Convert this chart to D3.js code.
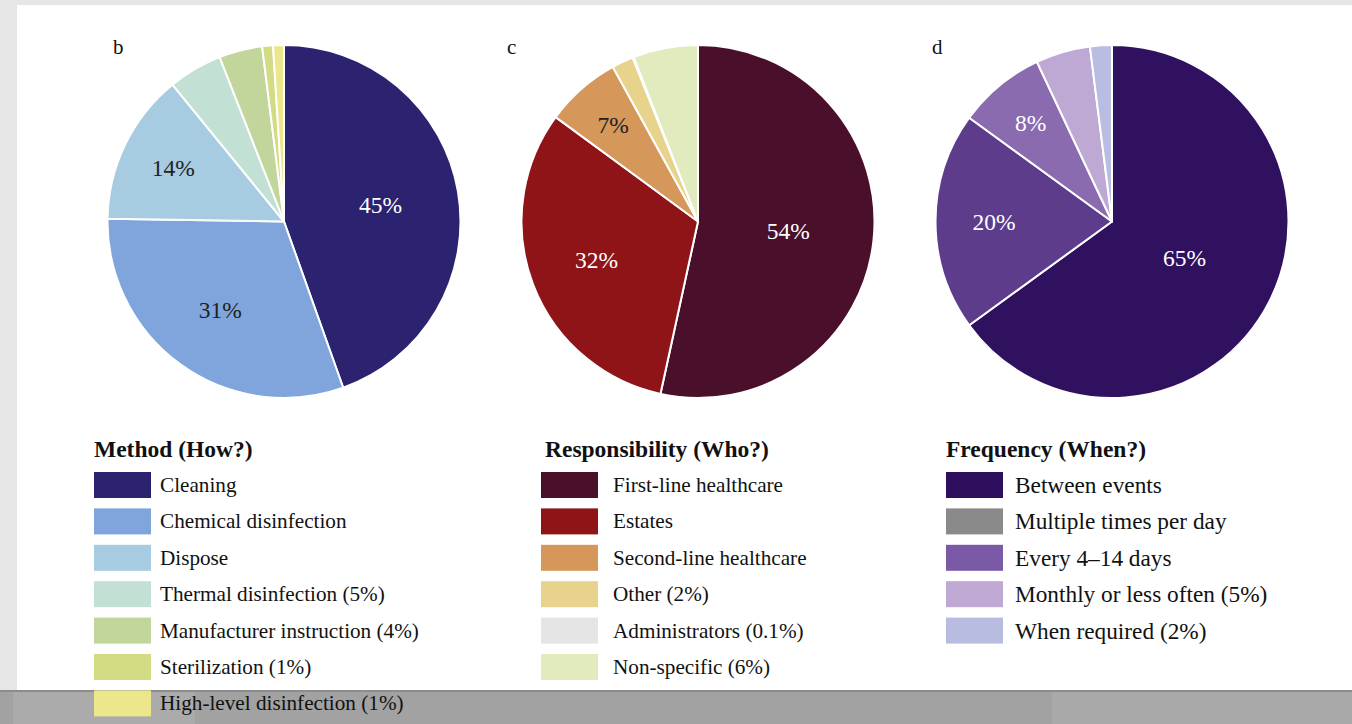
<!DOCTYPE html>
<html>
<head>
<meta charset="utf-8">
<script src="https://cdn.jsdelivr.net/npm/d3@7"></script>
<style>
  html, body { margin: 0; padding: 0; background: #e8e8e8; }
  svg { display: block; }
</style>
</head>
<body>
<svg id="chart" width="1352" height="724"></svg>
<script>
// Method (How?)
const methodLabels = ["Cleaning", "Chemical disinfection", "Dispose", "Thermal disinfection (5%)",
  "Manufacturer instruction (4%)", "Sterilization (1%)", "High-level disinfection (1%)"];
const methodValues = [45, 31, 14, 5, 4, 1, 1];
const methodColors = ["#2b2270", "#7fa5dc", "#a7cbe0", "#c3e0d5", "#c2d69c", "#d3db85", "#ebe78a"];

// Responsibility (Who?)
const respLabels = ["First-line healthcare", "Estates", "Second-line healthcare", "Other (2%)",
  "Administrators (0.1%)", "Non-specific (6%)"];
const respValues = [54, 32, 7, 2, 0.1, 6];
const respColors = ["#4a0f2a", "#8e1418", "#d5975a", "#e8d38c", "#e5e5e5", "#e1ebbe"];

// Frequency (When?) - legend entries
const freqLabels = ["Between events", "Multiple times per day", "Every 4\u201314 days",
  "Monthly or less often (5%)", "When required (2%)"];
const freqLegendColors = ["#2e0f5e", "#8a8a8a", "#7a5aa6", "#bfa8d3", "#b9bce1"];
// Frequency (When?) - pie slices
const freqValues = [65, 20, 8, 5, 2];
const freqSliceColors = ["#2f1160", "#5e3c8c", "#8a6bb0", "#bea8d4", "#babde2"];

const panels = [
  { letter: "b", title: "Method (How?)", labels: methodLabels, legendColors: methodColors,
    values: methodValues, sliceColors: methodColors,
    cx: 284, letterX: 113, titleX: 94, lx: 94, tx: 160, textSize: 21.2 },
  { letter: "c", title: "Responsibility (Who?)", labels: respLabels, legendColors: respColors,
    values: respValues, sliceColors: respColors,
    cx: 698, letterX: 507, titleX: 545, lx: 541, tx: 613, textSize: 21.2 },
  { letter: "d", title: "Frequency (When?)", labels: freqLabels, legendColors: freqLegendColors,
    values: freqValues, sliceColors: freqSliceColors,
    cx: 1112, letterX: 932, titleX: 946, lx: 946, tx: 1015, textSize: 23.3 }
];

const svg = d3.select("#chart");
const font = "'Liberation Serif', 'Times New Roman', serif";

// page background and white sheet
svg.append("rect").attr("x", 0).attr("y", 0).attr("width", 1352).attr("height", 724).attr("fill", "#e6e6e6");
svg.append("rect").attr("x", 17).attr("y", 5).attr("width", 1335).attr("height", 686).attr("fill", "#ffffff");
// strip of the next page section at the bottom
const strip = svg.append("g");
strip.append("rect").attr("x", 0).attr("y", 690).attr("width", 1352).attr("height", 34).attr("fill", "#a2a2a2");
strip.append("rect").attr("x", 13).attr("y", 690).attr("width", 182).attr("height", 34).attr("fill", "#ababab");
strip.append("rect").attr("x", 1052).attr("y", 690).attr("width", 300).attr("height", 34).attr("fill", "#a9a9a9");
strip.append("rect").attr("x", 0).attr("y", 690).attr("width", 1352).attr("height", 2).attr("fill", "#8c8c8c");

const R = 176.5;
const cy = 221.5;
const pie = d3.pie().sort(null).value(d => d);
const arc = d3.arc().innerRadius(0).outerRadius(R);
// label distance from centre shrinks as the slice grows
const labelRadius = d3.scaleLinear().domain([0, 1]).range([0.76 * R, 0.3 * R]);

panels.forEach(p => {
  const g = svg.append("g").attr("transform", `translate(${p.cx},${cy})`);
  const total = d3.sum(p.values);
  const arcs = pie(p.values);

  g.selectAll("path").data(arcs).join("path")
    .attr("d", arc)
    .attr("fill", (d, i) => p.sliceColors[i])
    .attr("stroke", "#ffffff")
    .attr("stroke-width", 2)
    .attr("stroke-linejoin", "round");

  g.selectAll("text.pct").data(arcs.filter(d => d.value >= 7)).join("text")
    .attr("class", "pct")
    .attr("transform", d => {
      const a = (d.startAngle + d.endAngle) / 2;
      const r = labelRadius(d.value / total);
      return `translate(${Math.sin(a) * r},${-Math.cos(a) * r})`;
    })
    .attr("text-anchor", "middle")
    .attr("dominant-baseline", "central")
    .attr("font-family", font)
    .attr("font-size", 23.5)
    .attr("fill", d => d3.lab(p.sliceColors[d.index]).l < 58 ? "#ffffff" : "#222222")
    .text(d => d.value + "%");

  // panel letter
  svg.append("text")
    .attr("x", p.letterX)
    .attr("y", 54)
    .attr("font-family", font).attr("font-size", 21).attr("fill", "#111")
    .text(p.letter);

  // legend
  const lg = svg.append("g");
  lg.append("text")
    .attr("x", p.titleX).attr("y", 457)
    .attr("font-family", font).attr("font-size", 23.5).attr("font-weight", "bold").attr("fill", "#111")
    .text(p.title);
  const rows = lg.selectAll("g.row").data(p.labels).join("g")
    .attr("class", "row")
    .attr("transform", (d, i) => `translate(0,${485 + i * 36.4})`);
  rows.append("rect")
    .attr("x", p.lx).attr("y", -13).attr("width", 57).attr("height", 26)
    .attr("fill", (d, i) => p.legendColors[i]);
  rows.append("text")
    .attr("x", p.tx).attr("y", 0)
    .attr("dominant-baseline", "central")
    .attr("font-family", font).attr("font-size", p.textSize).attr("fill", "#111")
    .text(d => d);
});
</script>
</body>
</html>
